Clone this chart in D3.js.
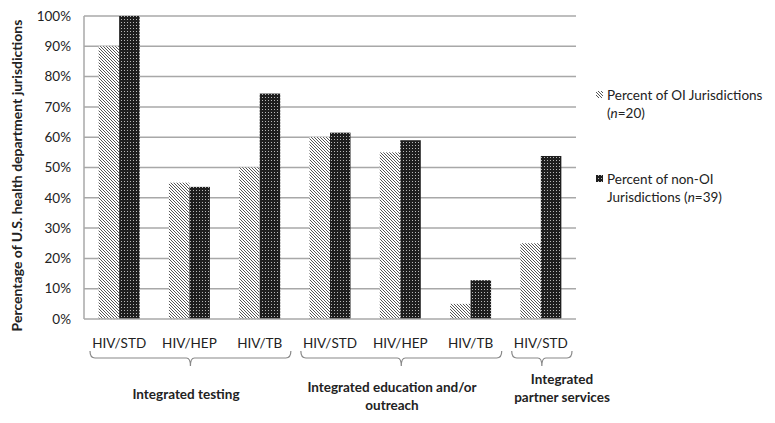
<!DOCTYPE html>
<html>
<head>
<meta charset="utf-8">
<script src="https://cdn.jsdelivr.net/npm/d3@7"></script>
<style>
  body { margin: 0; background: #fff; }
  text { font-family: Lato, "Open Sans", sans-serif; fill: #222; }
</style>
</head>
<body>
<svg id="chart" width="775" height="423"></svg>
<script>
const categories = ['HIV/STD', 'HIV/HEP', 'HIV/TB', 'HIV/STD', 'HIV/HEP', 'HIV/TB', 'HIV/STD'];
const oiValues = [90, 45, 50, 60, 55, 5, 25];
const nonOiValues = [100, 43.6, 74.4, 61.5, 59, 12.8, 53.8];
const yTicks = [0, 10, 20, 30, 40, 50, 60, 70, 80, 90, 100];
const groups = [
    { lines: ['Integrated testing'], from: 0, to: 2 },
    { lines: ['Integrated education and/or', 'outreach'], from: 3, to: 5 },
    { lines: ['Integrated', 'partner services'], from: 6, to: 6 }
];
const seriesNames = [['Percent of OI Jurisdictions', '(n=20)'], ['Percent of non-OI', 'Jurisdictions (n=39)']];

const svg = d3.select('#chart');
const plotLeft = 84, plotRight = 576, plotTop = 16, plotBottom = 319;

// Patterns
const defs = svg.append('defs');
const hatch = defs.append('pattern')
    .attr('id', 'hatch')
    .attr('patternUnits', 'userSpaceOnUse')
    .attr('width', 3).attr('height', 3);
hatch.append('rect').attr('width', 3).attr('height', 3).attr('fill', '#fff');
hatch.append('path').attr('d', 'M-1,-1 L4,4 M-1,2 L1,4 M2,-1 L4,1')
    .attr('stroke', '#555').attr('stroke-width', 1);

const checker = defs.append('pattern')
    .attr('id', 'checker')
    .attr('patternUnits', 'userSpaceOnUse')
    .attr('width', 3).attr('height', 3);
checker.append('rect').attr('width', 3).attr('height', 3).attr('fill', '#1e1e1e');
checker.append('rect').attr('x', 1).attr('y', 1).attr('width', 1).attr('height', 1).attr('fill', '#b8b8b8');

const x = d3.scaleBand().domain(d3.range(categories.length)).range([plotLeft, plotRight]);
const y = d3.scaleLinear().domain([0, 100]).range([plotBottom, plotTop]);

// Gridlines
svg.append('g').selectAll('line')
    .data(yTicks.filter(d => d > 0))
    .join('line')
    .attr('x1', plotLeft).attr('x2', plotRight)
    .attr('y1', d => y(d)).attr('y2', d => y(d))
    .attr('stroke', '#a8a8a8').attr('stroke-width', 1.5);

// Bars
const barW = 20.5;
const barGroup = svg.append('g');
categories.forEach((c, i) => {
    const cx = x(i) + x.bandwidth() / 2;
    barGroup.append('rect')
        .attr('x', cx - barW).attr('width', barW)
        .attr('y', y(oiValues[i])).attr('height', plotBottom - y(oiValues[i]))
        .attr('fill', 'url(#hatch)');
    barGroup.append('rect')
        .attr('x', cx).attr('width', barW)
        .attr('y', y(nonOiValues[i])).attr('height', plotBottom - y(nonOiValues[i]))
        .attr('fill', 'url(#checker)');
});

// Axes lines
svg.append('line').attr('x1', plotLeft).attr('x2', plotLeft).attr('y1', plotTop).attr('y2', plotBottom)
    .attr('stroke', '#a8a8a8').attr('stroke-width', 1.5);
svg.append('line').attr('x1', plotLeft).attr('x2', plotRight).attr('y1', plotBottom).attr('y2', plotBottom)
    .attr('stroke', '#a8a8a8').attr('stroke-width', 1.5);

// Y tick labels
svg.append('g').selectAll('text')
    .data(yTicks)
    .join('text')
    .attr('x', 71).attr('y', d => y(d))
    .attr('dy', '0.35em')
    .attr('text-anchor', 'end')
    .attr('font-size', 13.5)
    .text(d => d + '%');

// Y axis title
svg.append('text')
    .attr('transform', `translate(22,${(plotTop + plotBottom) / 2 + 8}) rotate(-90)`)
    .attr('text-anchor', 'middle')
    .attr('font-size', 14)
    .attr('font-weight', 'bold')
    .attr('fill', '#111')
    .text('Percentage of U.S. health department jurisdictions');

// Category labels
svg.append('g').selectAll('text')
    .data(categories)
    .join('text')
    .attr('x', (d, i) => x(i) + x.bandwidth() / 2)
    .attr('y', 348)
    .attr('text-anchor', 'middle')
    .attr('font-size', 13.5)
    .text(d => d);

// Group brackets
groups.forEach(g => {
    const x0 = x(g.from) + 6;
    const x1 = x(g.to) + x.bandwidth() - 4;
    const mid = (x0 + x1) / 2;
    svg.append('path')
        .attr('d', `M${x0},351 Q${x0},358 ${x0 + 5},358 L${mid - 4},358 Q${mid},358 ${mid},366 Q${mid},358 ${mid + 4},358 L${x1 - 5},358 Q${x1},358 ${x1},351`)
        .attr('fill', 'none').attr('stroke', '#888').attr('stroke-width', 1.2);
});

// Group labels
const labelPos = [[186, 399], [392, 392], [562, 384]];
groups.forEach((g, gi) => {
    const t = svg.append('text')
        .attr('x', labelPos[gi][0]).attr('y', labelPos[gi][1])
        .attr('text-anchor', 'middle')
        .attr('font-size', 13.5)
        .attr('font-weight', 'bold')
        .attr('fill', '#111');
    g.lines.forEach((l, li) => {
        t.append('tspan').attr('x', labelPos[gi][0]).attr('dy', li === 0 ? 0 : 18).text(l);
    });
});

// Legend
const legendY = [95, 179];
['hatch', 'checker'].forEach((p, i) => {
    svg.append('rect')
        .attr('x', 596).attr('y', legendY[i] - 4).attr('width', 7).attr('height', 7)
        .attr('fill', `url(#${p})`);
    const t = svg.append('text')
        .attr('x', 607).attr('y', legendY[i] + 5)
        .attr('font-size', 13.5);
    seriesNames[i].forEach((line, li) => {
        const ts = t.append('tspan').attr('x', 607).attr('dy', li === 0 ? 0 : 18);
        const m = line.match(/^(.*)\(n(=\d+)\)(.*)$/);
        if (m) {
            ts.append('tspan').text(m[1] + '(');
            ts.append('tspan').attr('font-style', 'italic').text('n');
            ts.append('tspan').text(m[2] + ')' + m[3]);
        } else {
            ts.text(line);
        }
    });
});
</script>
</body>
</html>
